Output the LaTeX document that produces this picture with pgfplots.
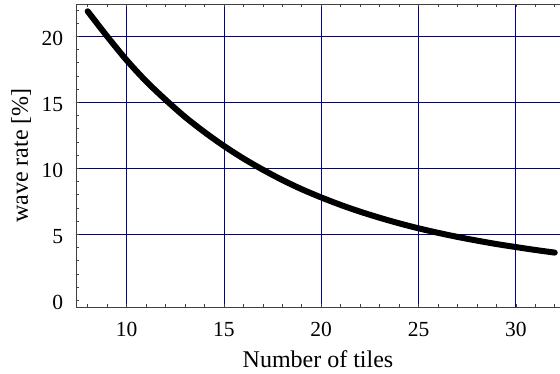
\documentclass[border=0pt]{standalone}
\usepackage{fontspec}
\setmainfont{Liberation Serif}
\usepackage{pgfplots}
\pgfplotsset{compat=1.18}
\definecolor{gridnavy}{RGB}{0,0,140}
\begin{document}
\begin{tikzpicture}
\path[use as bounding box] (-76pt,-66pt) rectangle (484pt,307pt);
\begin{axis}[
  at={(0,0)}, anchor=south west,
  scale only axis, width=484pt, height=303pt,
  xmin=7.4, xmax=32.27, ymin=-0.5, ymax=22.45,
  axis x line*=box, axis y line*=left,
  axis line style={black!75, line width=0.8pt},
  xtick={10,15,20,25,30}, ytick={5,10,15,20},
  extra y ticks={0}, extra y tick style={grid=none},
  minor xtick={8,9,...,32}, minor ytick={0,1,...,22},
  grid=major, major grid style={gridnavy, line width=0.8pt},
  tick align=inside, major tick length=3pt, minor tick length=3pt,
  every tick/.style={black!75, line width=0.6pt},
  /pgf/number format/assume math mode=true,
  tick label style={font=\fontsize{21.5}{24}\selectfont},
  xticklabel style={anchor=base, inner sep=0pt, yshift=-29.7pt},
  yticklabel style={anchor=east, inner sep=0pt, xshift=-12.7pt, yshift=-2pt},
  label style={font=\fontsize{24}{28}\selectfont},
  xlabel={Number of tiles},
  ylabel={wave rate [\%]},
  xlabel style={at={(axis description cs:0.5,-0.199)}, anchor=base},
  ylabel style={at={(axis description cs:-0.0992,0.5)}, anchor=base},
]
\addplot[black, line width=6pt, line cap=round, line join=round, smooth] coordinates {
(8,21.9) (9,20.0) (10,18.2) (11,16.6) (12,15.2) (13,13.9) (14,12.75)
(15,11.7) (16,10.75) (17,9.9) (18,9.12) (19,8.42) (20,7.8) (21,7.23)
(22,6.72) (23,6.26) (24,5.84) (25,5.46) (26,5.12) (27,4.81) (28,4.53)
(29,4.27) (30,4.04) (31,3.82) (32,3.62)
};
\end{axis}
\end{tikzpicture}
\end{document}
